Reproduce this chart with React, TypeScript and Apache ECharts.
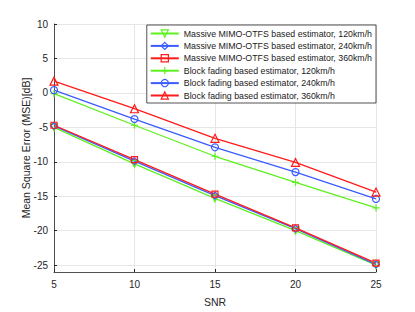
import React, { useEffect, useRef } from "react";
import * as echarts from "echarts";

const snr = [5, 10, 15, 20, 25];
const mimo120 = [-5.0, -10.3, -15.3, -20.0, -25.0];
const mimo240 = [-4.8, -9.9, -14.9, -19.7, -24.9];
const mimo360 = [-4.7, -9.7, -14.7, -19.6, -24.7];
const block120 = [-0.1, -4.7, -9.2, -13.0, -16.7];
const block240 = [0.4, -3.8, -7.9, -11.5, -15.4];
const block360 = [1.7, -2.3, -6.6, -10.1, -14.4];
const yTicks = [-25, -20, -15, -10, -5, 0, 5, 10];
const xTicks = [5, 10, 15, 20, 25];

const names = [
  "Massive MIMO-OTFS based estimator, 120km/h",
  "Massive MIMO-OTFS based estimator, 240km/h",
  "Massive MIMO-OTFS based estimator, 360km/h",
  "Block fading based estimator, 120km/h",
  "Block fading based estimator, 240km/h",
  "Block fading based estimator, 360km/h",
];

const GREEN = "#5ef01e";
const BLUE = "#3a5cff";
const RED = "#ff1a1a";
const colors = [GREEN, BLUE, RED, GREEN, BLUE, RED];

export default function App() {
  const ref = useRef<HTMLDivElement>(null);
  useEffect(() => {
    if (!ref.current) return;
    const chart = echarts.init(ref.current, null, { renderer: "svg" });
    const mk = (name: string, data: number[], color: string, symbol: string, size: number) => ({
      name,
      type: "line",
      data: snr.map((x, i) => [x, data[i]]),
      symbol,
      symbolSize: size,
      showAllSymbol: true,
      lineStyle: { color, width: 1.3 },
      itemStyle: { color: "rgba(255,255,255,0)", borderColor: color, borderWidth: 1.2 },
      emphasis: { disabled: true },
    });
    const font = "'Liberation Sans', Arial, sans-serif";
    chart.setOption({
      animation: false,
      backgroundColor: "#ffffff",
      textStyle: { fontFamily: font },
      grid: { left: 54, right: 39, top: 24, bottom: 37, containLabel: false },
      legend: {
        orient: "vertical",
        right: 39,
        top: 25,
        backgroundColor: "#ffffff",
        borderColor: "#262626",
        borderWidth: 0.8,
        borderRadius: 0,
        padding: [4, 4, 3, 3],
        itemGap: 3.4,
        itemWidth: 28,
        itemHeight: 9,
        textStyle: { fontFamily: font, fontSize: 8.8, color: "#1a1a1a", padding: [0, 0, 0, 0] },
        data: names.map((n, i) => ({
          name: n,
          itemStyle: { color: "rgba(255,255,255,0)", borderColor: colors[i], borderWidth: 1.2 },
        })),
      },
      xAxis: {
        type: "value",
        min: 5,
        max: 25,
        interval: 5,
        name: "SNR",
        nameLocation: "middle",
        nameGap: 24,
        nameMoveOverlap: false,
        nameTextStyle: { fontFamily: font, fontSize: 10.5, color: "#262626" },
        axisLine: { onZero: false, lineStyle: { color: "#262626", width: 0.8 } },
        axisTick: { show: true, inside: true, length: 3, lineStyle: { color: "#262626" } },
        axisLabel: { fontFamily: font, fontSize: 10, color: "#262626", margin: 7, customValues: xTicks },
        splitLine: { show: true, lineStyle: { color: "#e6e6e6", width: 1 } },
      },
      yAxis: {
        type: "value",
        min: -26,
        max: 10,
        name: "Mean Square Error (MSE)[dB]",
        nameLocation: "middle",
        nameGap: 23,
        nameMoveOverlap: false,
        nameTextStyle: { fontFamily: font, fontSize: 10.5, color: "#262626" },
        axisLine: { show: true, onZero: false, lineStyle: { color: "#262626", width: 0.8 } },
        axisTick: { show: true, inside: true, length: 3, lineStyle: { color: "#262626" }, customValues: yTicks },
        axisLabel: { fontFamily: font, fontSize: 10, color: "#262626", margin: 6, customValues: yTicks },
        splitLine: { show: true, lineStyle: { color: "#e6e6e6", width: 1 } },
      },
      series: [
        mk(names[0], mimo120, GREEN, "path://M0,0L10,0L5,10Z", 7),
        mk(names[1], mimo240, BLUE, "diamond", 7),
        mk(names[2], mimo360, RED, "rect", 6),
        mk(names[3], block120, GREEN, "path://M5,0L5,10M0,5L10,5", 7),
        mk(names[4], block240, BLUE, "circle", 7),
        mk(names[5], block360, RED, "triangle", 8),
      ],
    });
    return () => chart.dispose();
  }, []);
  return <div ref={ref} style={{ width: 415, height: 312, position: "absolute", left: 0, top: 0 }} />;
}
